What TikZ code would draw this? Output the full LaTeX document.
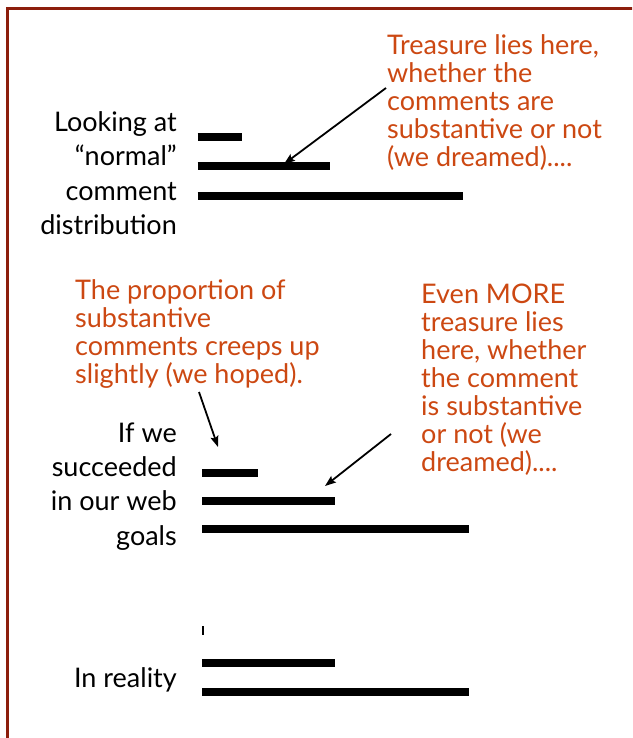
\documentclass[tikz,border=0pt]{standalone}
\usepackage{fontspec}
\setmainfont{Lato}
\usetikzlibrary{arrows.meta}
\definecolor{frame}{RGB}{140,30,12}
\definecolor{note}{RGB}{204,72,18}
\begin{document}
\begin{tikzpicture}[x=1pt,y=-1pt,
  lbl/.style={inner sep=0pt,anchor=base east,align=right,font=\fontsize{27}{34.3}\selectfont},
  notetxt/.style={inner sep=0pt,anchor=base west,align=left,text=note,font=\fontsize{27}{28}\selectfont},
  bar/.style={line width=8pt},
  pointer/.style={line width=1.8pt,-{Stealth[length=11pt,width=8pt,inset=2pt]}}]
\useasboundingbox (0,0) rectangle (632,738);
\clip (0,0) rectangle (632,738);
\draw[frame,line width=3pt] (7.5,745) -- (7.5,8.5) -- (645,8.5);

% group 1 (anchor = baseline of last line)
\node[lbl] (t1) at (177,234.5) {Looking at\\“normal”\\comment\\distribution};
\draw[bar] (197.5,136.7) coordinate (a1) -- (242,136.7) coordinate (a1e);
\draw[bar] (197.5,166.5) coordinate (a2) -- (330,166.5) coordinate (a2e);
\draw[bar] (197.5,196) coordinate (a3) -- (463,196) coordinate (a3e);
\node[notetxt] (n1) at (387,167) {Treasure lies here,\\whether the\\comments are\\substantive or not\\(we dreamed)....};
\coordinate (p1s) at (386,88);
\coordinate (p1e) at (284,164);
\draw[pointer] (p1s) -- (p1e);

% group 2
\node[lbl] (t2) at (177,545) {If we\\succeeded\\in our web\\goals};
\draw[bar] (202,473) coordinate (b1) -- (258,473) coordinate (b1e);
\draw[bar] (202,501) coordinate (b2) -- (335,501) coordinate (b2e);
\draw[bar] (202,529) coordinate (b3) -- (469,529) coordinate (b3e);
\node[notetxt] (n2) at (75,383) {The proportion of\\substantive\\comments creeps up\\slightly (we hoped).};
\node[notetxt] (n3) at (421,471) {Even MORE\\treasure lies\\here, whether\\the comment\\is substantive\\or not (we\\dreamed)....};
\coordinate (p2s) at (199,392);
\coordinate (p2e) at (218,447);
\draw[pointer] (p2s) -- (p2e);
\coordinate (p3s) at (391,434);
\coordinate (p3e) at (325,486);
\draw[pointer] (p3s) -- (p3e);

% group 3
\node[lbl] (t3) at (177,687) {In reality};
\draw[line width=2.5pt] (203,626) coordinate (c1) -- (203,635) coordinate (c1e);
\draw[bar] (202,662.5) coordinate (c2) -- (335,662.5) coordinate (c2e);
\draw[bar] (202,692) coordinate (c3) -- (469,692) coordinate (c3e);
\end{tikzpicture}
\end{document}
